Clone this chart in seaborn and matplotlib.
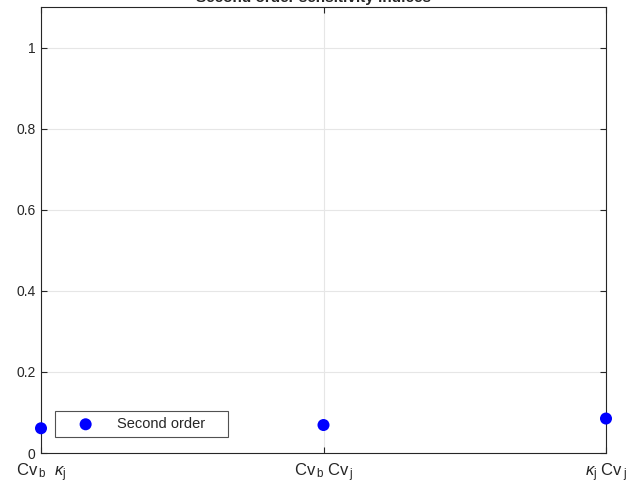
import numpy as np
import pandas as pd
import matplotlib
matplotlib.use("Agg")
import matplotlib.pyplot as plt
import seaborn as sns

# second order indices for each pair of parameters
pairs = [r'$\mathrm{Cv}_{\,\mathrm{b}}\ \ \kappa_{\mathrm{j}}$',
         r'$\mathrm{Cv}_{\,\mathrm{b}}\ \mathrm{Cv}_{\,\mathrm{j}}$',
         r'$\kappa_{\mathrm{j}}\ \mathrm{Cv}_{\,\mathrm{j}}$']
second_order = [0.061, 0.069, 0.085]
yticks = [0, 0.2, 0.4, 0.6, 0.8, 1]

df = pd.DataFrame({'pair': np.arange(len(pairs)), 'S2': second_order})

sns.set_theme(style="white")
plt.rcParams['font.family'] = ['Liberation Sans', 'DejaVu Sans']
plt.rcParams['mathtext.fontset'] = 'custom'
plt.rcParams['mathtext.rm'] = 'Liberation Sans'
plt.rcParams['mathtext.it'] = 'Liberation Sans:italic'

fig = plt.figure(figsize=(6.26, 4.86), dpi=100)
ax = fig.add_axes([41 / 626, 1 - 453 / 486, 565 / 626, 446 / 486])

sns.scatterplot(data=df, x='pair', y='S2', ax=ax, color='#0000ff', s=75,
                edgecolor='none', label='Second order', clip_on=False, zorder=5)

ax.set_xlim(0, 2)
ax.set_ylim(0, 1.1)
ax.set_xticks(df['pair'])
ax.set_xticklabels(pairs, fontsize=12, color='#262626')
ax.set_yticks(yticks)
ax.set_yticklabels([f'{v:g}' for v in yticks], fontsize=10, color='#262626')
ax.set_xlabel('')
ax.set_ylabel('')

ax.grid(True, color='#e6e6e6', linewidth=0.8)
ax.tick_params(direction='in', length=4, color='#262626', width=0.8,
               top=True, right=True, bottom=True, left=True, pad=4)
ax.tick_params(axis='x', pad=6)
for sp in ax.spines.values():
    sp.set_color('#262626')
    sp.set_linewidth(0.8)

# legend box stretched to the width seen in the reference
leg = ax.legend(loc='lower left', bbox_to_anchor=(0.0248, 0.036, 0.306, 0.05),
                mode='expand', frameon=True, fancybox=False, fontsize=10.5,
                handletextpad=0.45, borderpad=0.4, handlelength=3.4,
                borderaxespad=0)
leg.get_frame().set_edgecolor('#262626')
leg.get_frame().set_linewidth(0.8)

fig.text(0.5, 1 - 2 / 486, 'Second order sensitivity indices', ha='center',
         va='baseline', fontsize=11, fontweight='bold', color='#262626')

fig.savefig('out.png', dpi=100)
